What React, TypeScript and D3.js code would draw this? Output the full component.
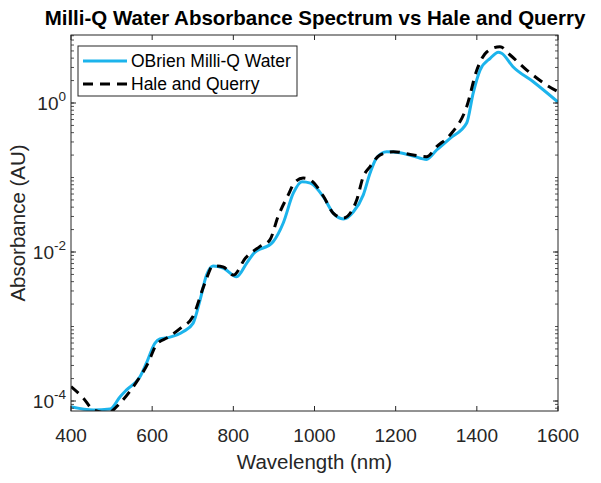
import React from "react";
import * as d3 from "d3";

const obrienWl = [400, 455, 496, 521, 537, 570, 586, 607, 619, 644, 676, 701, 718, 734, 750, 775, 808, 833, 849, 898, 923, 948, 969, 990, 1022, 1046, 1071, 1096, 1120, 1137, 1153, 1178, 1211, 1243, 1276, 1301, 1334, 1375, 1391, 1408, 1433, 1453, 1461, 1489, 1539, 1600];
const obrienAbs = [8.4e-5, 7.6e-5, 7.8e-5, 1.14e-4, 1.41e-4, 2.12e-4, 3.24e-4, 6.0e-4, 6.8e-4, 7.2e-4, 8.5e-4, 1.11e-3, 2.27e-3, 4.9e-3, 6.5e-3, 6.1e-3, 4.66e-3, 7.1e-3, 9.4e-3, 1.37e-2, 2.45e-2, 6.2e-2, 8.8e-2, 8.4e-2, 5.5e-2, 3.33e-2, 2.77e-2, 3.47e-2, 5.8e-2, 0.115, 0.183, 0.222, 0.215, 0.194, 0.175, 0.234, 0.336, 0.539, 1.36, 2.77, 3.98, 4.8, 4.65, 3.07, 1.93, 1.03];

const haleWl = [400, 430, 455, 490, 521, 560, 590, 610, 640, 670, 700, 730, 750, 775, 800, 830, 865, 890, 910, 935, 950, 972, 990, 1022, 1046, 1071, 1104, 1120, 1137, 1161, 1194, 1243, 1276, 1301, 1334, 1375, 1400, 1425, 1457, 1482, 1523, 1572, 1600];
const haleAbs = [1.56e-4, 1.1e-4, 7.6e-5, 6.9e-5, 9.4e-5, 1.75e-4, 3.24e-4, 5.65e-4, 7.2e-4, 9.5e-4, 1.35e-3, 3.84e-3, 6.5e-3, 6.3e-3, 4.9e-3, 8.3e-3, 1.18e-2, 1.45e-2, 2.98e-2, 5.8e-2, 8.4e-2, 9.85e-2, 9.25e-2, 5.6e-2, 3.33e-2, 2.85e-2, 4.99e-2, 0.102, 0.14, 0.2, 0.222, 0.2, 0.19, 0.259, 0.372, 0.892, 2.77, 4.88, 5.7, 4.41, 2.77, 1.74, 1.42];

const xTicks = [400, 600, 800, 1000, 1200, 1400, 1600];
const yTickExps = [-4, -2, 0];
const seriesNames = ["OBrien Milli-Q Water", "Hale and Querry"];

const W = 601, H = 483;
const L = 71, R = 558, T = 35, B = 411;
const font = "'Liberation Sans', Arial, Helvetica, sans-serif";
const axisColor = "#262626";
const blue = "#1cb4ec";

export default function App() {
  const x = d3.scaleLinear().domain([400, 1600]).range([L, R]);
  const yTopVal = Math.pow(10, (103 - T) / 74.5);
  const yBotVal = Math.pow(10, (103 - B) / 74.5);
  const y = d3.scaleLog().domain([yBotVal, yTopVal]).range([B, T]);

  const line = d3
    .line<[number, number]>()
    .x((d) => x(d[0]))
    .y((d) => y(d[1]))
    .curve(d3.curveMonotoneX);

  const obrien = obrienWl.map((w, i) => [w, obrienAbs[i]] as [number, number]);
  const hale = haleWl.map((w, i) => [w, haleAbs[i]] as [number, number]);

  const minor: number[] = [];
  for (let e = -5; e <= 1; e++) {
    for (let k = 1; k <= 9; k++) {
      const v = k * Math.pow(10, e);
      if (v >= yBotVal && v <= yTopVal) minor.push(v);
    }
  }

  return (
    <svg width={W} height={H} style={{ position: "absolute", left: 0, top: 0, background: "#fff" }} fontFamily={font}>
      <defs>
        <clipPath id="plotclip">
          <rect x={L} y={T} width={R - L} height={B - T} />
        </clipPath>
      </defs>
      <rect x={0} y={0} width={W} height={H} fill="#fff" />
      {/* title */}
      <text x={(33 + 597) / 2} y={25} textAnchor="middle" fontSize={20.5} fontWeight="bold" fill="#000">
        Milli-Q Water Absorbance Spectrum vs Hale and Querry
      </text>
      {/* curves */}
      <g clipPath="url(#plotclip)">
        <path d={line(obrien) || ""} fill="none" stroke={blue} strokeWidth={3} />
        <path d={line(hale) || ""} fill="none" stroke="#000" strokeWidth={3} strokeDasharray="10,7" />
      </g>
      {/* axes box */}
      <rect x={L} y={T} width={R - L} height={B - T} fill="none" stroke={axisColor} strokeWidth={1} />
      {/* x ticks */}
      {xTicks.map((t) => (
        <g key={"x" + t}>
          <line x1={x(t)} x2={x(t)} y1={B} y2={B - 5} stroke={axisColor} />
          <line x1={x(t)} x2={x(t)} y1={T} y2={T + 5} stroke={axisColor} />
          <text x={x(t)} y={B + 31} textAnchor="middle" fontSize={19} fill={axisColor}>
            {t}
          </text>
        </g>
      ))}
      {/* y minor ticks */}
      {minor.map((v, i) => (
        <g key={"m" + i}>
          <line x1={L} x2={L + 3} y1={y(v)} y2={y(v)} stroke={axisColor} strokeWidth={0.8} />
          <line x1={R} x2={R - 3} y1={y(v)} y2={y(v)} stroke={axisColor} strokeWidth={0.8} />
        </g>
      ))}
      {/* y major ticks */}
      {yTickExps.map((e) => (
        <g key={"y" + e}>
          <line x1={L} x2={L + 5} y1={y(Math.pow(10, e))} y2={y(Math.pow(10, e))} stroke={axisColor} />
          <line x1={R} x2={R - 5} y1={y(Math.pow(10, e))} y2={y(Math.pow(10, e))} stroke={axisColor} />
          <text x={L - 5} y={y(Math.pow(10, e)) + 7} textAnchor="end" fontSize={19} fill={axisColor}>
            <tspan>10</tspan>
            <tspan dy={-9} fontSize={13.5}>{e}</tspan>
          </text>
        </g>
      ))}
      {/* axis labels */}
      <text x={(L + R) / 2} y={469} textAnchor="middle" fontSize={20.5} fill={axisColor}>
        Wavelength (nm)
      </text>
      <text transform={`translate(25,${(T + B) / 2}) rotate(-90)`} textAnchor="middle" fontSize={20.5} fill={axisColor}>
        Absorbance (AU)
      </text>
      {/* legend */}
      <rect x={78} y={46} width={219} height={50} fill="#fff" stroke={axisColor} strokeWidth={1} />
      <line x1={83} x2={127} y1={61} y2={61} stroke={blue} strokeWidth={3} />
      <text x={131} y={67} fontSize={17.5} fill="#000">{seriesNames[0]}</text>
      <line x1={83} x2={127} y1={84} y2={84} stroke="#000" strokeWidth={3} strokeDasharray="10,7" />
      <text x={131} y={90} fontSize={17.5} fill="#000">{seriesNames[1]}</text>
    </svg>
  );
}
